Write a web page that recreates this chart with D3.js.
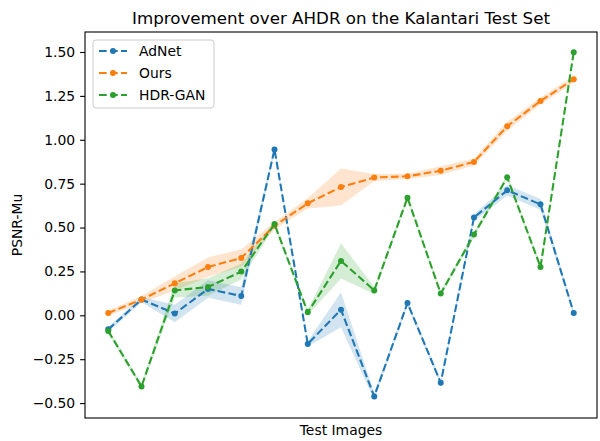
<!DOCTYPE html>
<html>
<head>
<meta charset="utf-8">
<script src="https://cdn.jsdelivr.net/npm/d3@7/dist/d3.min.js"></script>
<style>
  body { margin: 0; background: #fff; }
  svg { display: block; font-family: "DejaVu Sans", sans-serif; }
</style>
</head>
<body>
<svg id="chart" width="600" height="441"></svg>
<script>
const images = d3.range(1, 16);
const adnet = [-0.08, 0.09, 0.01, 0.15, 0.11, 0.945, -0.163, 0.032, -0.462, 0.07, -0.384, 0.557, 0.712, 0.632, 0.013];
const adnetErr = [0.015, 0.015, 0.05, 0.05, 0.05, 0.015, 0.015, 0.1, 0.02, 0.015, 0.015, 0.02, 0.03, 0.03, 0.015];
const ours = [0.013, 0.09, 0.182, 0.275, 0.327, 0.51, 0.638, 0.731, 0.785, 0.792, 0.824, 0.874, 1.077, 1.221, 1.345];
const oursErr = [0.015, 0.02, 0.04, 0.055, 0.05, 0.02, 0.03, 0.105, 0.02, 0.015, 0.025, 0.02, 0.025, 0.02, 0.02];
const hdrgan = [-0.09, -0.405, 0.142, 0.161, 0.249, 0.52, 0.017, 0.31, 0.142, 0.67, 0.124, 0.46, 0.786, 0.275, 1.499];
const hdrganErr = [0.015, 0.015, 0.04, 0.05, 0.045, 0.015, 0.015, 0.1, 0.02, 0.015, 0.015, 0.015, 0.015, 0.015, 0.015];
const yTicks = [-0.5, -0.25, 0, 0.25, 0.5, 0.75, 1.0, 1.25, 1.5];
const seriesNames = ["AdNet", "Ours", "HDR-GAN"];
const seriesColors = ["#1f77b4", "#ff7f0e", "#2ca02c"];

const series = [
  { name: seriesNames[0], values: adnet, err: adnetErr, color: seriesColors[0] },
  { name: seriesNames[1], values: ours, err: oursErr, color: seriesColors[1] },
  { name: seriesNames[2], values: hdrgan, err: hdrganErr, color: seriesColors[2] }
];

const svg = d3.select("#chart");
const mLeft = 85, mRight = 597, mTop = 32, mBottom = 418;

const n = images.length;
const pad = (n - 1) * 0.05;
const x = d3.scaleLinear().domain([1 - pad, n + pad]).range([mLeft, mRight]);
const y = d3.scaleLinear().domain([-0.585, 1.614]).range([mBottom, mTop]);

// bands and lines
series.forEach(s => {
  const area = d3.area()
    .x((d, i) => x(images[i]))
    .y0((d, i) => y(d - s.err[i]))
    .y1((d, i) => y(d + s.err[i]));
  svg.append("path")
    .attr("d", area(s.values))
    .attr("fill", s.color)
    .attr("fill-opacity", 0.2)
    .attr("stroke", "none");
});

series.forEach(s => {
  const line = d3.line().x((d, i) => x(images[i])).y(d => y(d));
  svg.append("path")
    .attr("d", line(s.values))
    .attr("fill", "none")
    .attr("stroke", s.color)
    .attr("stroke-width", 2.08)
    .attr("stroke-dasharray", "7.7,3.3");
  svg.append("g").selectAll("circle")
    .data(s.values)
    .join("circle")
    .attr("cx", (d, i) => x(images[i]))
    .attr("cy", d => y(d))
    .attr("r", 3)
    .attr("fill", s.color);
});

// axes frame
svg.append("rect")
  .attr("x", mLeft).attr("y", mTop)
  .attr("width", mRight - mLeft).attr("height", mBottom - mTop)
  .attr("fill", "none").attr("stroke", "#000").attr("stroke-width", 1.1);

const yAxis = d3.axisLeft(y).tickValues(yTicks)
  .tickFormat(d => d3.format(".2f")(d).replace("-", "\u2212"))
  .tickSize(4.9).tickPadding(4.9);
const gy = svg.append("g").attr("transform", `translate(${mLeft},0)`).call(yAxis);
gy.select(".domain").remove();
gy.selectAll("line").attr("stroke", "#000").attr("stroke-width", 1.1);
gy.selectAll("text").attr("font-size", 13.9).attr("fill", "#000")
  .attr("font-family", "DejaVu Sans");

// title and labels
svg.append("text")
  .attr("x", (mLeft + mRight) / 2).attr("y", 24)
  .attr("text-anchor", "middle").attr("font-size", 16.7).attr("fill", "#000")
  .text("Improvement over AHDR on the Kalantari Test Set");

svg.append("text")
  .attr("x", (mLeft + mRight) / 2).attr("y", 435)
  .attr("text-anchor", "middle").attr("font-size", 13.9).attr("fill", "#000")
  .text("Test Images");

svg.append("text")
  .attr("transform", `translate(22,${(mTop + mBottom) / 2}) rotate(-90)`)
  .attr("text-anchor", "middle").attr("font-size", 13.9).attr("fill", "#000")
  .text("PSNR-Mu");

// legend
const lg = svg.append("g").attr("transform", "translate(93,40)");
lg.append("rect")
  .attr("x", 0).attr("y", 0).attr("width", 121).attr("height", 68)
  .attr("rx", 3).attr("fill", "#fff").attr("fill-opacity", 0.8)
  .attr("stroke", "#ccc").attr("stroke-width", 1);
series.forEach((s, i) => {
  const yy = 11 + i * 22;
  lg.append("line")
    .attr("x1", 6).attr("x2", 34).attr("y1", yy).attr("y2", yy)
    .attr("stroke", s.color).attr("stroke-width", 2.08)
    .attr("stroke-dasharray", "7.7,3.3");
  lg.append("circle").attr("cx", 20).attr("cy", yy).attr("r", 3).attr("fill", s.color);
  lg.append("text")
    .attr("x", 46).attr("y", yy + 5)
    .attr("font-size", 13.9).attr("fill", "#000")
    .text(s.name);
});
</script>
</body>
</html>
